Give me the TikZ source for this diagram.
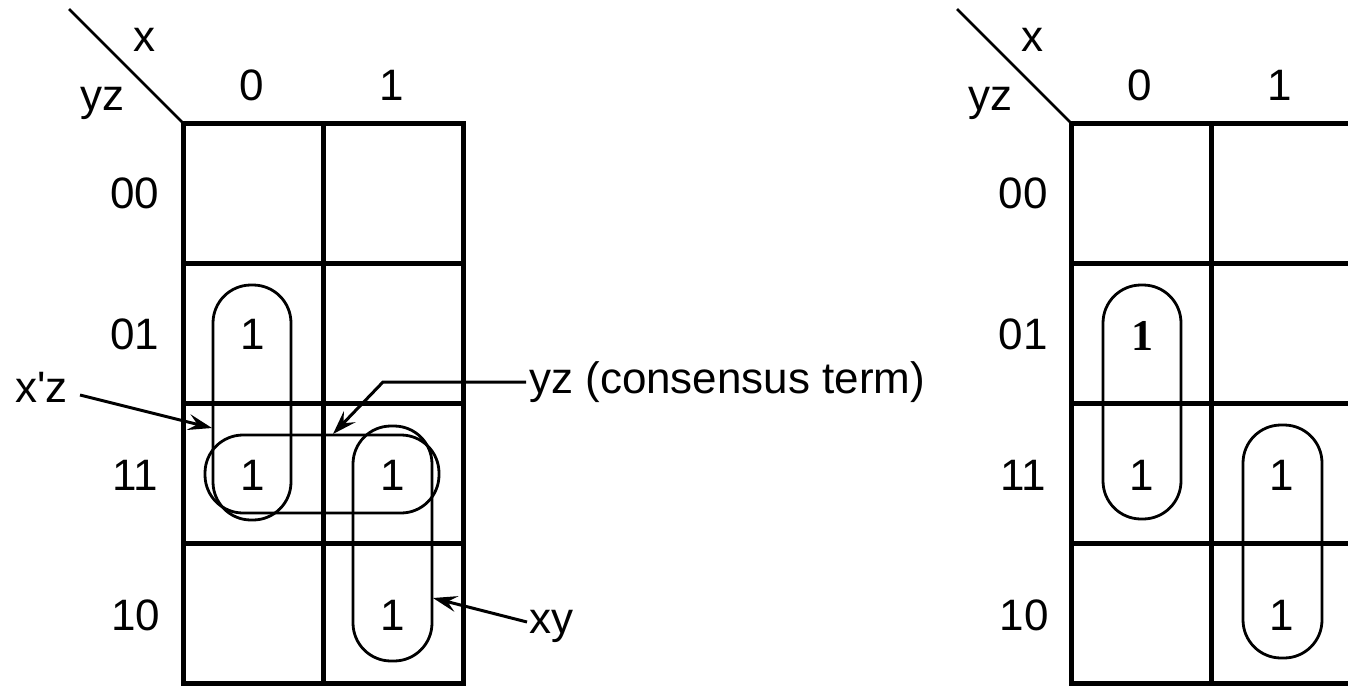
\documentclass[tikz,border=0pt]{standalone}
\usepackage{fontspec}
\setmainfont{Liberation Sans}
\newfontfamily\serifone{Liberation Serif}
\usetikzlibrary{arrows.meta}
\begin{document}
\begin{tikzpicture}[x=1pt,y=-1pt,
  lbl/.style={font=\fontsize{44}{50}\selectfont, inner sep=0pt, anchor=base},
  lblw/.style={lbl, anchor=base west},
  gridline/.style={line width=5pt},
  diag/.style={line width=2.6pt},
  kloop/.style={draw, line width=2.8pt, rounded corners=38pt, inner sep=0pt, minimum width=78pt, minimum height=78pt},
  ptr/.style={line width=3pt, -{Stealth[length=24pt,width=16pt,inset=9pt]}}]
\useasboundingbox (0,0) rectangle (1348,685);
\clip (0,0) rectangle (1348,685);

% ---------- left map ----------
\coordinate (LdA) at (69,9);
\coordinate (LdB) at (183,123);
\draw[diag] (LdA) -- (LdB);
\node[lbl] (Lx) at (144,52) {x};
\node[lbl] (Lyz) at (102,110) {yz};
\node[lbl] (Lc0) at (252,100) {0};
\node[lbl] (Lc1) at (392,100) {1};
\node[lbl] (Lr00) at (135,208) {00};
\node[lbl] (Lr01) at (135,349) {01};
\node[lbl] (Lr11) at (135,490) {11};
\node[lbl] (Lr10) at (136,630) {10};
\draw[gridline] (183,123) rectangle (463,683);
\draw[gridline] (323,123) -- (323,683);
\draw[gridline] (183,263) -- (463,263);
\draw[gridline] (183,403) -- (463,403);
\draw[gridline] (183,543) -- (463,543);
\node[lbl] (Lm01) at (253,349) {1};
\node[lbl] (Lm11) at (253,490) {1};
\node[lbl] (Lm13) at (393,490) {1};
\node[lbl] (Lm12) at (393,630) {1};
\node[kloop, minimum height=235pt] (Lxz) at (252,402.5) {};
\node[kloop, minimum width=234pt] (Lyzl) at (322,474) {};
\node[kloop, minimum height=235pt, minimum width=79pt] (Lxy) at (392.5,543.5) {};

% labels and arrows
\node[lblw] (Txz) at (15,402) {x\textquotesingle z};
\node[lblw] (Tyz) at (529,393) {yz (consensus term)};
\node[lblw] (Txy) at (529,633) {xy};
\coordinate (Sxz) at (80,395);
\coordinate (Exz) at (212,428);
\coordinate (Syz) at (526,382);
\coordinate (Byz) at (383,382);
\coordinate (Eyz) at (333,434);
\coordinate (Sxy) at (527,622);
\coordinate (Exy) at (433,598);
\draw[ptr] (Sxz) -- (Exz);
\draw[ptr] (Syz) -- (Byz) -- (Eyz);
\draw[ptr] (Sxy) -- (Exy);

% ---------- right map ----------
\coordinate (RdA) at (957,9);
\coordinate (RdB) at (1071,123);
\draw[diag] (RdA) -- (RdB);
\node[lbl] (Rx) at (1032,52) {x};
\node[lbl] (Ryz) at (990,110) {yz};
\node[lbl] (Rc0) at (1140,100) {0};
\node[lbl] (Rc1) at (1280,100) {1};
\node[lbl] (Rr00) at (1023,208) {00};
\node[lbl] (Rr01) at (1023,349) {01};
\node[lbl] (Rr11) at (1023,490) {11};
\node[lbl] (Rr10) at (1024,630) {10};
\draw[gridline] (1071,123) rectangle (1351,683);
\draw[gridline] (1211,123) -- (1211,683);
\draw[gridline] (1071,263) -- (1351,263);
\draw[gridline] (1071,403) -- (1351,403);
\draw[gridline] (1071,543) -- (1351,543);
\node[lbl, font=\fontsize{44}{50}\serifone\bfseries] (Rm01) at (1142,350) {1};
\node[lbl] (Rm11) at (1142,490) {1};
\node[lbl] (Rm13) at (1282,490) {1};
\node[lbl] (Rm12) at (1282,630) {1};
\node[kloop, minimum height=234pt] (Rg1) at (1142,402) {};
\node[kloop, minimum height=233pt, minimum width=79pt] (Rg2) at (1282.5,541.5) {};
\end{tikzpicture}
\end{document}
